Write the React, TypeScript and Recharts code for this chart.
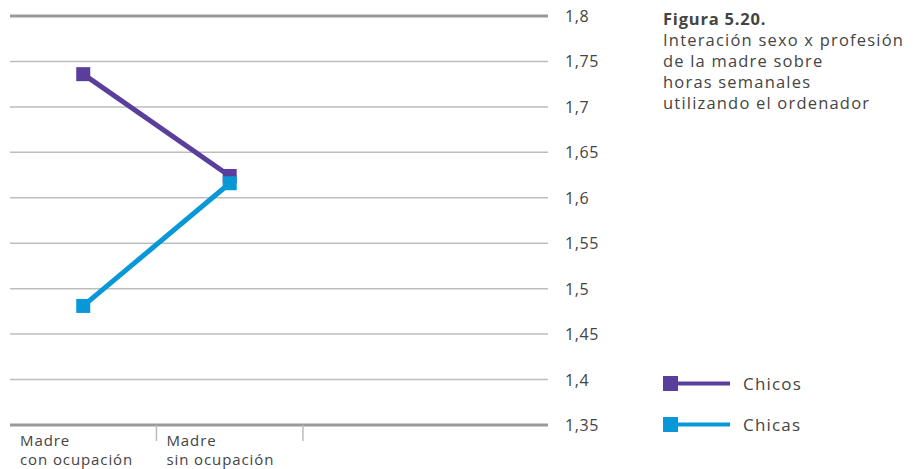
import React from "react";
import { LineChart, Line, XAxis, YAxis, CartesianGrid, ReferenceLine } from "recharts";

const categories = ["Madre\ncon ocupación", "Madre\nsin ocupación"];
const chicos = [1.736, 1.624];
const chicas = [1.481, 1.616];
const yTicks = [1.35, 1.4, 1.45, 1.5, 1.55, 1.6, 1.65, 1.7, 1.75, 1.8];
const xTicks = [0, 1, 2];
const seriesNames = ["Chicos", "Chicas"];

const PURPLE = "#5a3e9c";
const BLUE = "#0898d8";
const FONT = "'Open Sans', 'Noto Sans', sans-serif";

const data = categories.map((c, i) => ({ x: i + 0.5, name: c, chicos: chicos[i], chicas: chicas[i] }));

const Square = (color: string) => (props: any) => {
  const { cx, cy } = props;
  if (cx == null || cy == null) return null;
  return <rect x={cx - 7} y={cy - 7} width={14} height={14} fill={color} />;
};

const YTick = (props: any) => {
  const { x, y, payload } = props;
  return (
    <text x={x + 9} y={y} dy={6} fill="#444" fontSize={16} letterSpacing={0.6} fontFamily={FONT} textAnchor="start">
      {String(payload.value).replace(".", ",")}
    </text>
  );
};

const XTick = (props: any) => {
  const { x, y, payload } = props;
  const label = categories[payload.value];
  return (
    <g>
      {payload.value > 0 && <line x1={x} x2={x} y1={y - 8} y2={y + 8} stroke="#bbb" strokeWidth={1.5} />}
      {label &&
        label.split("\n").map((l, i) => (
          <text key={i} x={x + 10} y={y + 13 + i * 19} fill="#444" fontSize={15} letterSpacing={0.9} fontFamily={FONT}>
            {l}
          </text>
        ))}
    </g>
  );
};

export default function App() {
  return (
    <div style={{ position: "relative", width: 905, height: 461 }}>
      <LineChart width={905} height={461} data={data} margin={{ top: 8, right: 305, left: 2, bottom: 0 }}>
        <CartesianGrid horizontal vertical={false} stroke="#bdbdbd" strokeWidth={1.5} />
        <XAxis
          dataKey="x"
          type="number"
          domain={[0, 3.673]}
          ticks={xTicks}
          height={44}
          axisLine={false}
          tickLine={false}
          tick={<XTick />}
          interval={0}
        />
        <YAxis
          orientation="right"
          type="number"
          domain={[1.35, 1.8]}
          ticks={yTicks}
          width={60}
          axisLine={false}
          tickLine={false}
          tick={<YTick />}
          interval={0}
        />
        <ReferenceLine y={1.8} stroke="#999" strokeWidth={3} />
        <ReferenceLine y={1.35} stroke="#999" strokeWidth={3} />
        <Line type="linear" dataKey="chicos" stroke={PURPLE} strokeWidth={5} dot={Square(PURPLE)} activeDot={false} isAnimationActive={false} />
        <Line type="linear" dataKey="chicas" stroke={BLUE} strokeWidth={5} dot={Square(BLUE)} activeDot={false} isAnimationActive={false} />
      </LineChart>
      <div style={{ position: "absolute", left: 655, top: 0, fontFamily: FONT, fontSize: 16.5, lineHeight: "21px", letterSpacing: 1.2, color: "#444" }}>
        <div style={{ fontWeight: 700, letterSpacing: 0.8 }}>Figura 5.20.</div>
        <div>Interación sexo x profesión</div>
        <div>de la madre sobre</div>
        <div>horas semanales</div>
        <div>utilizando el ordenador</div>
      </div>
      {[PURPLE, BLUE].map((color, i) => (
        <div
          key={i}
          style={{ position: "absolute", left: 655, top: 365 + i * 41, display: "flex", alignItems: "center", height: 20, fontFamily: FONT, color: "#444" }}
        >
          <svg width={80} height={16}>
            <rect x={0} y={1} width={15} height={15} fill={color} />
            <rect x={14} y={6.5} width={53} height={4} fill={color} />
          </svg>
          <span style={{ fontSize: 17, letterSpacing: 1.2 }}>{seriesNames[i]}</span>
        </div>
      ))}
    </div>
  );
}
